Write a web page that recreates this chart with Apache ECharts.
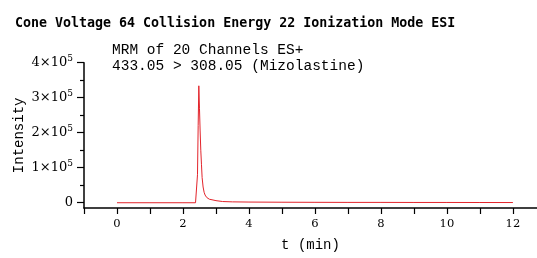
<!DOCTYPE html>
<html>
<head>
<meta charset="utf-8">
<script src="https://cdn.jsdelivr.net/npm/echarts@6/dist/echarts.min.js"></script>
<style>
html,body{margin:0;padding:0;background:#fff;}
#chart{width:537px;height:258px;}
</style>
</head>
<body>
<div id="chart"></div>
<script>
// Data
var titleText = 'Cone Voltage 64 Collision Energy 22 Ionization Mode ESI';
var subLines = ['MRM of 20 Channels ES+', '433.05 > 308.05 (Mizolastine)'];
var xName = 't (min)';
var yName = 'Intensity';
var times = [0, 1, 2, 2.38, 2.415, 2.44, 2.46, 2.48, 2.50, 2.52, 2.54, 2.56, 2.58, 2.61, 2.64, 2.67, 2.72, 2.80, 2.88, 3.0, 3.2, 3.5, 4, 5, 6, 7, 8, 9, 10, 11, 12];
var intensity = [0, 0, 0, 0, 2000, 80000, 220000, 334000, 270000, 205000, 150000, 110000, 72000, 45000, 30000, 22000, 15000, 10000, 8500, 6000, 3500, 2500, 2000, 1500, 1200, 1000, 1000, 800, 800, 700, 600];
var yMajor = [0, 100000, 200000, 300000, 400000];
var yMinor = [50000, 150000, 250000, 350000];
var xTickLabels = [0, 2, 4, 6, 8, 10, 12];

var chart = echarts.init(document.getElementById('chart'), null, {renderer: 'canvas'});
var seriesData = times.map(function (t, i) { return [t, intensity[i]]; });
var serif = 'DejaVu Serif';
var mono = 'Liberation Mono';

var option = {
  animation: false,
  backgroundColor: '#ffffff',
  title: [
    {
      text: titleText, left: 10, top: 12,
      textStyle: {fontFamily: 'DejaVu Sans Mono', fontWeight: 'bold', fontSize: 13.3, color: '#000'}
    },
    {
      text: subLines.join('\n'), left: 107, top: 37,
      textStyle: {fontFamily: mono, fontWeight: 'normal', fontSize: 14.5, lineHeight: 16, color: '#000'}
    }
  ],
  grid: {left: 84, right: 0, top: 62.7, bottom: 50, containLabel: false},
  xAxis: {
    type: 'value', min: -1, max: 12.73, interval: 1,
    name: xName, nameLocation: 'middle', nameGap: 30, nameMoveOverlap: false,
    nameTextStyle: {fontFamily: mono, fontSize: 14, color: '#000'},
    axisLine: {show: true, onZero: false, lineStyle: {color: '#000', width: 1.5}},
    axisTick: {show: true, length: 6, lineStyle: {color: '#000', width: 1.2}},
    axisLabel: {
      margin: 10, fontFamily: serif, fontSize: 11.5, color: '#000', showMaxLabel: false,
      formatter: function (v) { return xTickLabels.indexOf(v) >= 0 ? String(v) : ''; }
    },
    splitLine: {show: false}
  },
  yAxis: [
    {
      type: 'value', min: -15000, max: 400000, position: 'left', offset: 0,
      name: yName, nameLocation: 'middle', nameGap: 58, nameMoveOverlap: false,
      nameTextStyle: {fontFamily: mono, fontSize: 14, color: '#000'},
      axisLine: {show: true, onZero: false, lineStyle: {color: '#000', width: 1.5}},
      axisTick: {show: true, length: 7, customValues: yMajor, lineStyle: {color: '#000', width: 1.2}},
      axisLabel: {
        show: true, margin: 11, customValues: yMajor, color: '#000',
        formatter: function (v) {
          if (v === 0) return '{a|0}';
          return '{a|' + (v / 100000) + '×10}{b|5}';
        },
        rich: {
          a: {fontFamily: serif, fontSize: 13, color: '#000'},
          b: {fontFamily: serif, fontSize: 9, color: '#000', padding: [0, 0, 8, 0]}
        }
      },
      splitLine: {show: false}
    },
    {
      type: 'value', min: -15000, max: 400000, position: 'left', offset: 0,
      axisLine: {show: false, onZero: false},
      axisTick: {show: true, length: 4, customValues: yMinor, lineStyle: {color: '#000', width: 1.2}},
      axisLabel: {show: false},
      splitLine: {show: false}
    }
  ],
  series: [{
    type: 'line', data: seriesData, yAxisIndex: 0,
    showSymbol: false, symbol: 'none', smooth: false,
    lineStyle: {color: '#e3242b', width: 1},
    clip: true
  }]
};
chart.setOption(option);
</script>
</body>
</html>
